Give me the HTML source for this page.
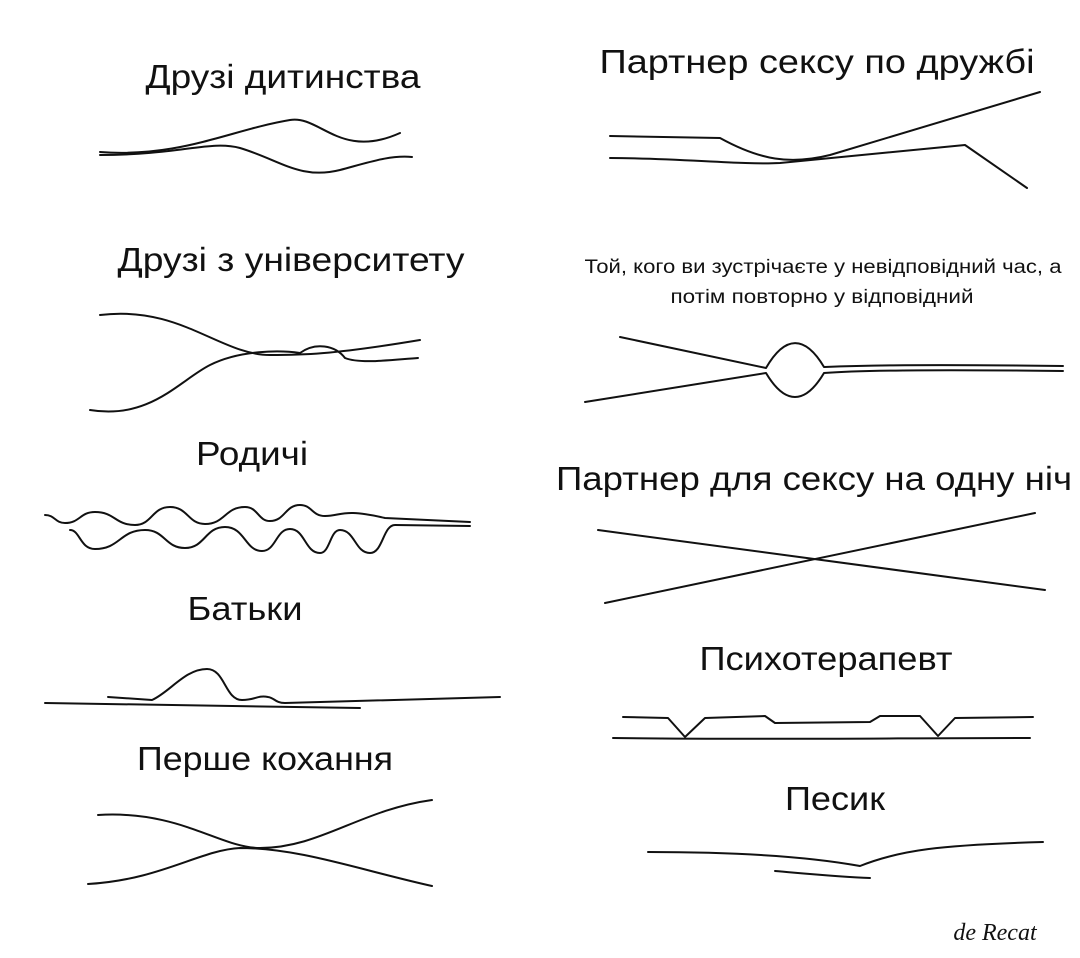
<!DOCTYPE html>
<html><head><meta charset="utf-8"><style>
html,body{margin:0;padding:0;background:#fff;}
svg{display:block}
text{font-family:"Liberation Sans","DejaVu Sans",sans-serif;fill:#111;}
path,line{fill:none;stroke:#111;stroke-width:2;stroke-linecap:round;stroke-linejoin:round}
</style></head><body>
<svg width="1080" height="958" viewBox="0 0 1080 958" xmlns="http://www.w3.org/2000/svg">
<g font-size="33" text-anchor="middle" lengthAdjust="spacingAndGlyphs">
<text x="283" y="88" textLength="275" lengthAdjust="spacingAndGlyphs">Друзі дитинства</text>
<text x="817" y="73" textLength="435" lengthAdjust="spacingAndGlyphs">Партнер сексу по дружбі</text>
<text x="291" y="271" textLength="347" lengthAdjust="spacingAndGlyphs">Друзі з університету</text>
<text x="252" y="465" textLength="112" lengthAdjust="spacingAndGlyphs">Родичі</text>
<text x="814" y="490" textLength="516" lengthAdjust="spacingAndGlyphs">Партнер для сексу на одну ніч</text>
<text x="245" y="620" textLength="115" lengthAdjust="spacingAndGlyphs">Батьки</text>
<text x="826" y="670" textLength="253" lengthAdjust="spacingAndGlyphs">Психотерапевт</text>
<text x="265" y="770" textLength="256" lengthAdjust="spacingAndGlyphs">Перше кохання</text>
<text x="835" y="810" textLength="100" lengthAdjust="spacingAndGlyphs">Песик</text>
</g>
<g font-size="19" text-anchor="middle">
<text x="823" y="273" textLength="477" lengthAdjust="spacingAndGlyphs">Той, кого ви зустрічаєте у невідповідний час, а</text>
<text x="822" y="303" textLength="303" lengthAdjust="spacingAndGlyphs">потім повторно у відповідний</text>
</g>
<text x="995" y="940" font-size="24" font-style="italic" text-anchor="middle" style='font-family:"Liberation Serif",serif'>de Recat</text>

<!-- childhood -->
<path d="M100,152 C180,158 230,130 290,120 C320,115 340,160 400,133"/>
<path d="M100,155 C180,155 210,140 240,148 C280,160 300,180 340,170 C370,162 390,155 412,157"/>
<!-- fwb -->
<path d="M610,136 L720,138 C760,160 790,165 830,155 L1040,92"/>
<path d="M610,158 C680,158 740,165 780,163 L965,145 L1027,188"/>
<!-- uni -->
<path d="M100,315 C180,305 220,355 270,355 C300,355 330,355 420,340"/>
<path d="M90,410 C150,420 180,380 210,365 C240,350 280,350 300,353 C315,342 335,345 345,358 C360,364 390,360 418,358"/>
<!-- wrong time -->
<path d="M620,337 L766,368 C785,335 805,335 824,367 C850,366 900,364 1063,366"/>
<path d="M585,402 L766,373 C785,405 805,405 824,373 C850,371 900,369 1063,371"/>
<!-- relatives -->
<path d="M45,515 C55,515 55,523 65,523 C80,523 80,512 95,512 C115,512 115,525 135,525 C152,525 152,507 170,507 C188,507 188,524 205,524 C225,524 225,507 245,507 C258,507 258,521 270,521 C285,521 285,505 300,505 C312,505 312,516 325,516 C342,516 342,508 385,518 L470,522"/>
<path d="M70,530 C80,530 80,549 95,549 C120,549 120,530 145,530 C165,530 165,548 185,548 C205,548 205,527 225,527 C245,527 245,551 262,551 C276,551 276,529 290,529 C305,529 305,553 320,553 C330,553 330,530 340,530 C355,530 355,553 370,553 C383,553 383,525 395,525 L470,526"/>
<!-- one night -->
<line x1="598" y1="530" x2="1045" y2="590"/>
<line x1="605" y1="603" x2="1035" y2="513"/>
<!-- parents -->
<path d="M45,703 L360,708"/>
<path d="M108,697 L152,700 C170,692 185,669 207,669 C225,669 225,700 242,700 C255,700 258,695 268,697 C275,698 275,703 285,703 L500,697"/>
<!-- therapist -->
<path d="M613,738 C750,740 900,738 1030,738"/>
<path d="M623,717 L668,718 L685,737 L705,718 L765,716 L775,723 L870,722 L880,716 L920,716 L938,736 L955,718 L1033,717"/>
<!-- first love -->
<path d="M98,815 C180,810 220,848 260,848 C320,848 360,810 432,800"/>
<path d="M88,884 C160,880 200,850 240,848 C300,848 360,870 432,886"/>
<!-- dog -->
<path d="M648,852 C720,852 800,855 860,866 C900,850 940,845 1043,842"/>
<path d="M775,871 C810,874 840,877 870,878"/>
</svg>
</body></html>
